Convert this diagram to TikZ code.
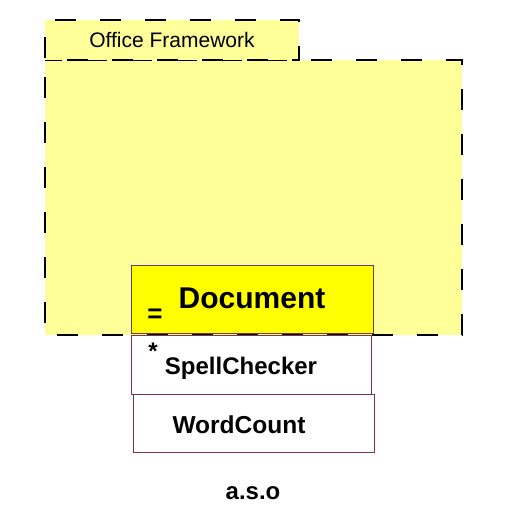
\documentclass[tikz,border=0pt]{standalone}
\usepackage{fontspec}
\setmainfont{Liberation Sans}
\definecolor{paleyellow}{HTML}{FFFF99}
\definecolor{docyellow}{HTML}{FFFF00}
\definecolor{boxborder}{HTML}{7F3055}
\tikzset{
  frame/.style={fill=paleyellow, draw=black, line width=1.8pt, dash pattern=on 21pt off 24pt, dash phase=28pt},
  classbox/.style={draw=boxborder, line width=0.9pt, inner sep=0pt},
  lbl/.style={font=\bfseries, inner sep=0pt}
}
\begin{document}
\begin{tikzpicture}[x=1pt,y=-1pt]
\useasboundingbox (0,0) rectangle (508,519);
% body of the framework package
\path[frame] (45,60) rectangle (462,335);
% tab
\path[frame] (45,20) rectangle (299,60);
\node[inner sep=0pt, font=\fontsize{21}{24}\selectfont] (tab) at (172,40) {Office Framework};
% class boxes
\node[classbox, fill=docyellow, minimum width=242pt, minimum height=68pt, anchor=north west] (doc) at (131,265) {};
\node[classbox, fill=white, minimum width=240pt, minimum height=59pt, anchor=north west] (spell) at (131,335) {};
\node[classbox, fill=white, minimum width=241pt, minimum height=58pt, anchor=north west] (wc) at (133,394) {};
\node[lbl, font=\bfseries\fontsize{30}{34}\selectfont] (doct) at (252,298) {Document};
\node[lbl, font=\bfseries\fontsize{26}{30}\selectfont] (eq) at (155,316) {=};
\node[lbl, font=\bfseries\fontsize{24}{28}\selectfont] (star) at (153,351) {*};
\node[lbl, font=\bfseries\fontsize{24}{28}\selectfont] (spt) at (241,368) {SpellChecker};
\node[lbl, font=\bfseries\fontsize{24.5}{28}\selectfont] (wct) at (239,425) {WordCount};
\node[lbl, font=\bfseries\fontsize{24}{28}\selectfont] (aso) at (253,493) {a.s.o};
\end{tikzpicture}
\end{document}
